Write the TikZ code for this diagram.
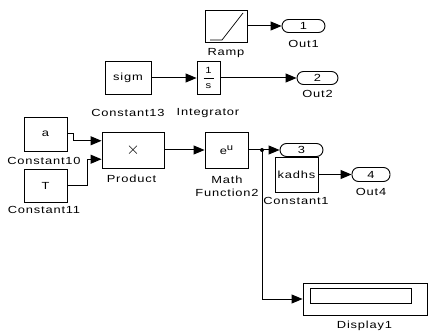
\documentclass[tikz,border=0pt]{standalone}
\usepackage{fontspec}
\setmainfont{Liberation Sans}[FakeStretch=1.25,LetterSpace=8]
\usetikzlibrary{arrows.meta,calc}
\begin{document}
\begin{tikzpicture}[x=1pt,y=-1pt,
  txt/.style={font=\fontsize{10.3}{13}\selectfont},
  blk/.style={draw, line width=0.9pt, inner sep=0pt, txt},
  port/.style={draw, line width=0.9pt, rounded corners=6.5pt, inner sep=0pt,
    minimum width=43pt, minimum height=13pt, txt},
  lbl/.style={inner sep=0pt, txt, align=center},
  wire/.style={line width=1pt},
  sig/.style={wire, -{Triangle[length=11pt,width=9pt]}}]
\useasboundingbox (0,0) rectangle (428,331);

% Ramp -> Out1
\node[blk, minimum width=42pt, minimum height=32pt] (ramp) at (226,26) {};
\draw[line width=0.7pt] (210,40) -- (222,40) -- (243,13);
\node[lbl] (ramplbl) at (226,53) {Ramp};
\node[port] (out1) at (303.5,26) {1};
\node[lbl] (out1lbl) at (303.5,43.5) {Out1};
\draw[sig] (ramp) -- (out1);

% Constant13 -> Integrator -> Out2
\node[blk, minimum width=46pt, minimum height=33pt] (c13) at (128,78) {sigm};
\node[lbl] (c13lbl) at (128,113) {Constant13};
\node[blk, minimum width=23pt, minimum height=33pt] (integ) at (208.5,78) {};
\node[lbl, font=\fontsize{9}{10}\selectfont] (num) at (208.5,70.5) {1};
\draw[line width=0.6pt] (203.5,78) -- (213.5,78);
\node[lbl, font=\fontsize{9}{10}\selectfont] (den) at (208.5,86) {s};
\node[lbl] (integlbl) at (208,113) {Integrator};
\node[port, minimum width=41pt] (out2) at (317.5,78) {2};
\node[lbl] (out2lbl) at (317.5,94) {Out2};
\draw[sig] (c13) -- (integ);
\draw[sig] (integ) -- (out2);

% Constants a, T -> Product
\node[blk, minimum width=43pt, minimum height=34pt] (c10) at (45.5,134) {a};
\node[lbl] (c10lbl) at (44,161) {Constant10};
\node[blk, minimum width=43pt, minimum height=33pt] (c11) at (45.5,185.5) {T};
\node[lbl] (c11lbl) at (44,210) {Constant11};
\node[blk, minimum width=62pt, minimum height=36pt] (prod) at (133,150)
  {\fontsize{16}{16}\selectfont$\times$};
\node[lbl] (prodlbl) at (131.5,178.5) {Product};
\draw[sig] (c10.east) -- ++(6,0) |- ($(prod.north west)!0.25!(prod.south west)$);
\draw[sig] (c11.east) -- ++(20,0) |- ($(prod.north west)!0.75!(prod.south west)$);

% Math function and its branches
\node[blk, minimum width=43pt, minimum height=36pt] (mathf) at (226.5,150)
  {e\raisebox{4pt}{\fontsize{9}{9}\selectfont u}};
\node[lbl] (mathlbl) at (227,186) {Math\\Function2};
\draw[sig] (prod) -- (mathf);
\coordinate (br) at (262,150);
\draw[wire] (mathf) -- (br);
\fill (br) circle (2pt);
\node[port] (out3) at (301.5,150) {3};
\draw[sig] (br) -- (out3);

% Constant1 -> Out4
\node[blk, fill=white, minimum width=43pt, minimum height=35pt] (k1) at (296.5,174.5) {kadhs};
\node[lbl] (k1lbl) at (296,201) {Constant1};
\node[port, minimum width=38pt, minimum height=14pt] (out4) at (371,174.5) {4};
\node[lbl] (out4lbl) at (371,192) {Out4};
\draw[sig] (k1) -- (out4);

% Display
\node[blk, minimum width=124pt, minimum height=32pt] (disp) at (365,299) {};
\draw[line width=0.9pt] (310,288) rectangle (411,303);
\node[lbl] (displbl) at (364.5,326) {Display1};
\draw[sig] (br) |- (disp.west);
\end{tikzpicture}
\end{document}
